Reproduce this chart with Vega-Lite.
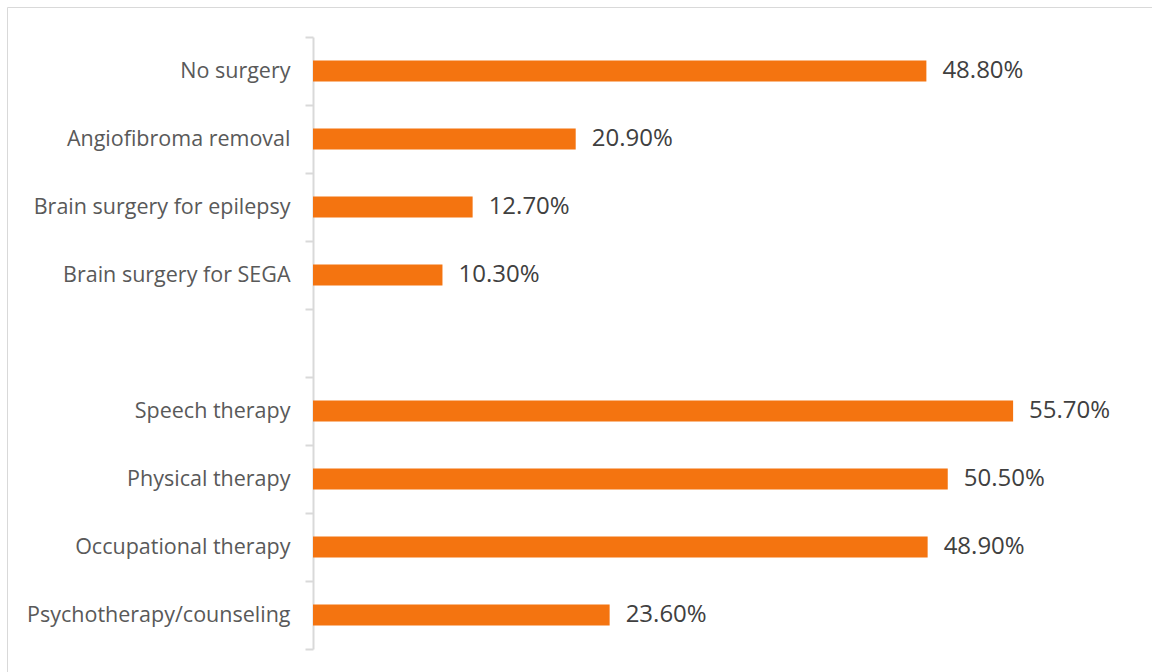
{
  "$schema": "https://vega.github.io/schema/vega-lite/v6.json",
  "width": 1145,
  "height": 665,
  "padding": {"left": 7, "top": 7, "right": 0, "bottom": 0},
  "autosize": {"type": "none"},
  "background": "white",
  "config": {"view": {"stroke": "#D9D9D9", "strokeWidth": 1}, "font": "Open Sans"},
  "data": {
    "values": [
      {"item": "No surgery", "value": 0.488},
      {"item": "Angiofibroma removal", "value": 0.209},
      {"item": "Brain surgery for epilepsy", "value": 0.127},
      {"item": "Brain surgery for SEGA", "value": 0.103},
      {"item": "Speech therapy", "value": 0.557},
      {"item": "Physical therapy", "value": 0.505},
      {"item": "Occupational therapy", "value": 0.489},
      {"item": "Psychotherapy/counseling", "value": 0.236}
    ]
  },
  "encoding": {
    "y": {
      "field": "item",
      "type": "nominal",
      "scale": {
        "domain": ["No surgery", "Angiofibroma removal", "Brain surgery for epilepsy", "Brain surgery for SEGA", "", "Speech therapy", "Physical therapy", "Occupational therapy", "Psychotherapy/counseling"],
        "range": [30, 642],
        "paddingInner": 0,
        "paddingOuter": 0
      },
      "axis": {
        "title": null,
        "offset": -306,
        "domainColor": "#D9D9D9",
        "domainWidth": 2,
        "tickColor": "#D9D9D9",
        "tickWidth": 2,
        "tickSize": 8,
        "tickBand": "extent",
        "labelFontSize": 21.5,
        "labelColor": "#595959",
        "labelPadding": 15,
        "labelFont": "Open Sans",
        "labelLimit": 0,
        "grid": false
      }
    },
    "x": {
      "field": "value",
      "type": "quantitative",
      "scale": {"domain": [0, 0.6675], "range": [306, 1145], "nice": false},
      "axis": null
    }
  },
  "layer": [
    {"mark": {"type": "bar", "size": 21, "color": "#F47410"}},
    {
      "mark": {"type": "text", "align": "left", "baseline": "middle", "dx": 16, "fontSize": 24, "color": "#404040", "font": "Open Sans"},
      "encoding": {"text": {"field": "value", "type": "quantitative", "format": ".2%"}}
    }
  ]
}
